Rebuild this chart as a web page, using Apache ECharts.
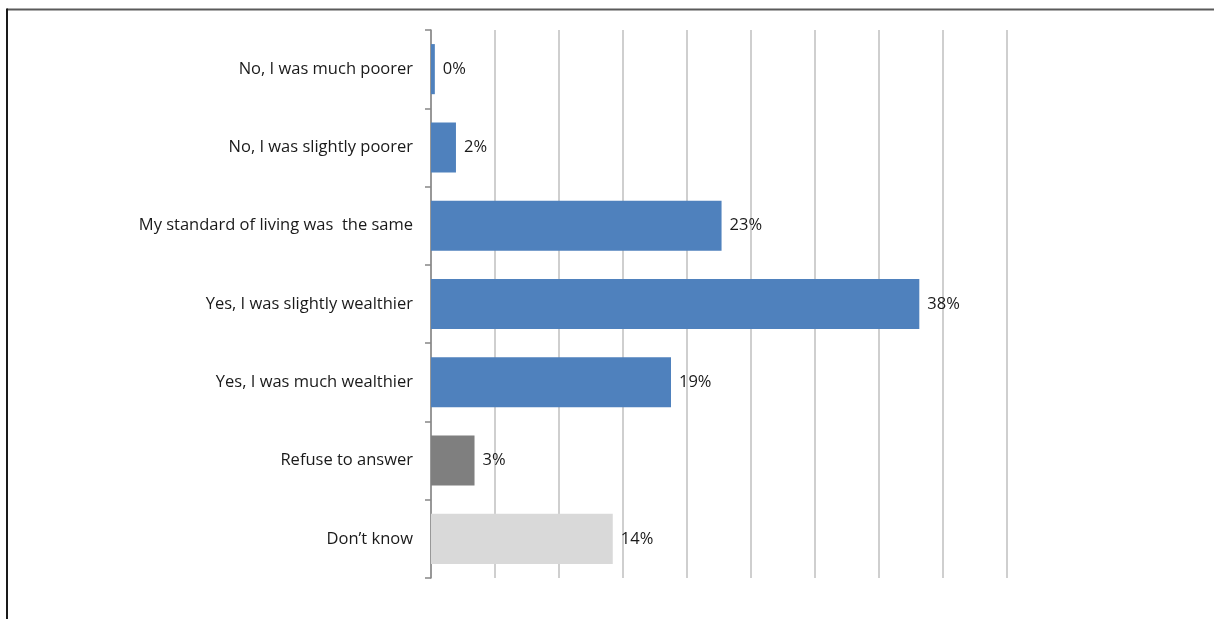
<!DOCTYPE html>
<html>
<head>
<meta charset="utf-8">
<script src="https://cdn.jsdelivr.net/npm/echarts@6/dist/echarts.min.js"></script>
<style>
html,body{margin:0;padding:0;background:#fff;}
#chart{width:1214px;height:619px;}
</style>
</head>
<body>
<div id="chart"></div>
<script>
const categories = [
  "No, I was much poorer",
  "No, I was slightly poorer",
  "My standard of living was  the same",
  "Yes, I was slightly wealthier",
  "Yes, I was much wealthier",
  "Refuse to answer",
  "Don\u2019t know"
];
const values = [0.3, 1.95, 22.7, 38.15, 18.75, 3.4, 14.2];
const groups = ["answer", "answer", "answer", "answer", "answer", "refused", "unknown"];
const xTicks = { min: 0, max: 45, step: 5 };

const groupColor = { answer: "#4F81BD", refused: "#7F7F7F", unknown: "#D9D9D9" };
const FONT = "'Open Sans', Lato, sans-serif";

const chart = echarts.init(document.getElementById('chart'), null, { renderer: 'canvas' });
chart.setOption({
  animation: false,
  backgroundColor: '#fff',
  grid: { left: 431, right: 207, top: 30, bottom: 41, containLabel: false },
  xAxis: {
    type: 'value',
    min: xTicks.min, max: xTicks.max, interval: xTicks.step,
    axisLine: { show: false },
    axisTick: { show: false },
    axisLabel: { show: false },
    splitLine: { show: true, lineStyle: { color: '#BFBFBF', width: 1.5 } }
  },
  yAxis: {
    type: 'category',
    inverse: true,
    data: categories,
    axisLine: { show: true, lineStyle: { color: '#868686', width: 1.5 } },
    axisTick: { show: true, length: 6, lineStyle: { color: '#868686', width: 1.5 } },
    axisLabel: { margin: 18, fontSize: 16.5, color: '#1a1a1a', fontFamily: FONT }
  },
  series: [{
    type: 'bar',
    data: values.map((v, i) => ({ value: v, itemStyle: { color: groupColor[groups[i]] } })),
    barCategoryGap: '36%',
    label: {
      show: true,
      position: 'right',
      distance: 8,
      fontSize: 16.5,
      color: '#1a1a1a',
      fontFamily: FONT,
      formatter: p => Math.round(p.value) + '%'
    }
  }],
  graphic: [
    { type: 'line', shape: { x1: 7, y1: 9.5, x2: 1214, y2: 9.5 }, style: { stroke: '#5a5a5a', lineWidth: 2 } },
    { type: 'line', shape: { x1: 7, y1: 8.5, x2: 7, y2: 619 }, style: { stroke: '#1a1a1a', lineWidth: 2 } }
  ]
});
</script>
</body>
</html>
